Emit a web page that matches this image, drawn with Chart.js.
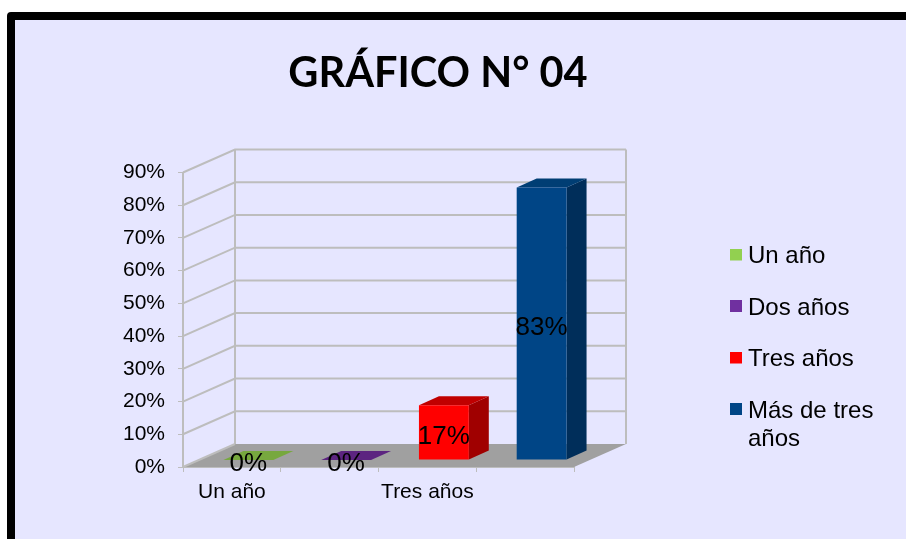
<!DOCTYPE html>
<html>
<head>
<meta charset="utf-8">
<title>Gráfico N° 04</title>
<script src="https://cdn.jsdelivr.net/npm/chart.js@4"></script>
<style>
html, body { margin: 0; padding: 0; background: #fff; overflow: hidden; }
#frame { position: absolute; left: 7px; top: 12px; width: 940px; height: 560px; background: #e6e6ff; border: 8px solid #000; border-radius: 4px; }
#chartID { position: absolute; left: 0; top: 0; }
</style>
</head>
<body>
<div id="frame"></div>
<canvas id="chartID" width="906" height="539"></canvas>
<script>
const categories = ['Un año', 'Dos años', 'Tres años', 'Más de tres años']
const legendText = ['Un año', 'Dos años', 'Tres años', ['Más de tres', 'años']]
const tickLabels = ['Un año', '', 'Tres años', '']
const percentValues = [0, 0, 16.7, 83.3]

const frontColors = ['#77a83e', '#5c2480', '#ff0000', '#004586']
const legendColors = ['#92d050', '#7030a0', '#ff0000', '#004586']
const topColors = ['#77a83e', '#5c2480', '#c00000', '#003e74']
const sideColors = ['#5f8632', '#4a1d66', '#a00000', '#002e5a']

const wallColor = '#bdbdbd'
const floorColor = '#a0a0a0'

// how far the back wall sits behind the axes, and the bars inside that depth
const wall = { dx: 52, dy: -23 }
const barShift = { dx: 16.5, dy: -7 }
const barDepth = { dx: 20, dy: -9 }

function poly(ctx, pts, color) {
	ctx.fillStyle = color
	ctx.beginPath()
	pts.forEach(function(p, i) {
		if (i === 0) ctx.moveTo(p[0], p[1])
		else ctx.lineTo(p[0], p[1])
	})
	ctx.closePath()
	ctx.fill()
}

// legend text sits closer to its box than Chart.js allows, so the box is a point image
// (taller canvas with the square at the top lifts it 2px)
function swatch(color) {
	const c = document.createElement('canvas')
	c.width = 12
	c.height = 16
	const g = c.getContext('2d')
	g.fillStyle = color
	g.fillRect(0, 0, 12, 12)
	return c
}

const fake3d = {
	id: 'fake3d',
	beforeLayout(chart) {
		// keep the plot narrow, the legend sits past the back wall
		const legend = chart.legend
		if (!legend.origFit) {
			legend.origFit = legend.fit
			legend.fit = function() {
				legend.origFit.call(legend)
				legend.width = 302
			}
		}
	},
	afterLayout(chart) {
		chart.legend.left = 708.5
		chart.legend.top = 217
	},
	beforeDatasetsDraw(chart) {
		const ctx = chart.ctx
		const area = chart.chartArea
		const y = chart.scales.y
		ctx.save()
		poly(ctx, [
			[area.left, area.bottom],
			[area.right, area.bottom],
			[area.right + wall.dx, area.bottom + wall.dy],
			[area.left + wall.dx, area.bottom + wall.dy],
		], floorColor)
		ctx.strokeStyle = wallColor
		ctx.lineWidth = 2
		y.ticks.forEach(function(t) {
			const py = y.getPixelForValue(t.value)
			ctx.beginPath()
			ctx.moveTo(area.left, py)
			ctx.lineTo(area.left + wall.dx, py + wall.dy)
			if (t.value > 0) ctx.lineTo(area.right + wall.dx, py + wall.dy)
			ctx.stroke()
		})
		ctx.beginPath()
		ctx.moveTo(area.left + wall.dx, area.top + wall.dy)
		ctx.lineTo(area.left + wall.dx, area.bottom + wall.dy)
		ctx.moveTo(area.right + wall.dx, area.top + wall.dy)
		ctx.lineTo(area.right + wall.dx, area.bottom + wall.dy)
		ctx.stroke()
		ctx.restore()
	},
	beforeDatasetDraw(chart, args) {
		const ctx = chart.ctx
		ctx.save()
		ctx.translate(barShift.dx, barShift.dy)
		args.meta.data.forEach(function(bar, i) {
			const p = bar.getProps(['x', 'y', 'base', 'width'], true)
			const l = p.x - p.width / 2
			const r = p.x + p.width / 2
			poly(ctx, [
				[r, p.y],
				[r + barDepth.dx, p.y + barDepth.dy],
				[r + barDepth.dx, p.base + barDepth.dy],
				[r, p.base],
			], sideColors[i])
			poly(ctx, [
				[l, p.y],
				[r, p.y],
				[r + barDepth.dx, p.y + barDepth.dy],
				[l + barDepth.dx, p.y + barDepth.dy],
			], topColors[i])
		})
	},
	afterDatasetDraw(chart) {
		chart.ctx.restore()
	},
	afterDatasetsDraw(chart) {
		const ctx = chart.ctx
		const meta = chart.getDatasetMeta(0)
		ctx.save()
		ctx.fillStyle = '#000'
		ctx.font = '26px "Liberation Sans"'
		ctx.textAlign = 'center'
		ctx.textBaseline = 'middle'
		meta.data.forEach(function(bar, i) {
			const p = bar.getProps(['x', 'y', 'base'], true)
			const midY = (p.y + p.base) / 2 + barShift.dy
			ctx.fillText(Math.round(percentValues[i]) + '%', p.x + barShift.dx, midY + 4)
		})
		ctx.restore()
	},
}

const chartCtx = document.getElementById('chartID').getContext('2d')
const barChart = new Chart(chartCtx, {
	type: 'bar',
	data: {
		labels: categories,
		datasets: [
			{
				data: percentValues,
				backgroundColor: frontColors,
				borderWidth: 0,
				categoryPercentage: 1,
				barPercentage: 0.51,
			},
		],
	},
	options: {
		responsive: false,
		animation: false,
		layout: { padding: { left: 0, right: 30, top: 0, bottom: 0 } },
		plugins: {
			tooltip: { enabled: false },
			title: {
				display: true,
				text: 'GRÁFICO N° 04',
				color: '#000',
				font: { family: 'Lato', size: 41.5, weight: 'bold', lineHeight: 1.2 },
				padding: { top: 49, bottom: 73.7 },
			},
			legend: {
				position: 'right',
				align: 'start',
				labels: {
					color: '#000',
					font: { family: 'Liberation Sans', size: 24 },
					usePointStyle: true,
					boxWidth: 0.01,
					padding: 27.5,
					generateLabels() {
						return categories.map(function(c, i) {
							return {
								text: legendText[i],
								pointStyle: swatch(legendColors[i]),
								fillStyle: legendColors[i],
								strokeStyle: legendColors[i],
								lineWidth: 0,
								index: i,
							}
						})
					},
				},
			},
		},
		scales: {
			x: {
				afterFit(scale) { scale.height = 72 },
				border: { color: wallColor, width: 2 },
				grid: { drawOnChartArea: false, color: wallColor, tickLength: 5 },
				ticks: {
					color: '#000',
					font: { family: 'Liberation Sans', size: 21 },
					padding: 8,
					maxRotation: 0,
					autoSkip: false,
					callback(value, i) { return tickLabels[i] },
				},
			},
			y: {
				min: 0,
				max: 90,
				afterFit(scale) { scale.width = 183 },
				border: { color: wallColor, width: 2 },
				grid: { drawOnChartArea: false, color: wallColor, tickLength: 5 },
				ticks: {
					color: '#000',
					stepSize: 10,
					font: { family: 'Liberation Sans', size: 21 },
					padding: 13,
					callback(value) { return value + '%' },
				},
			},
		},
	},
	plugins: [fake3d],
})
</script>
</body>
</html>
